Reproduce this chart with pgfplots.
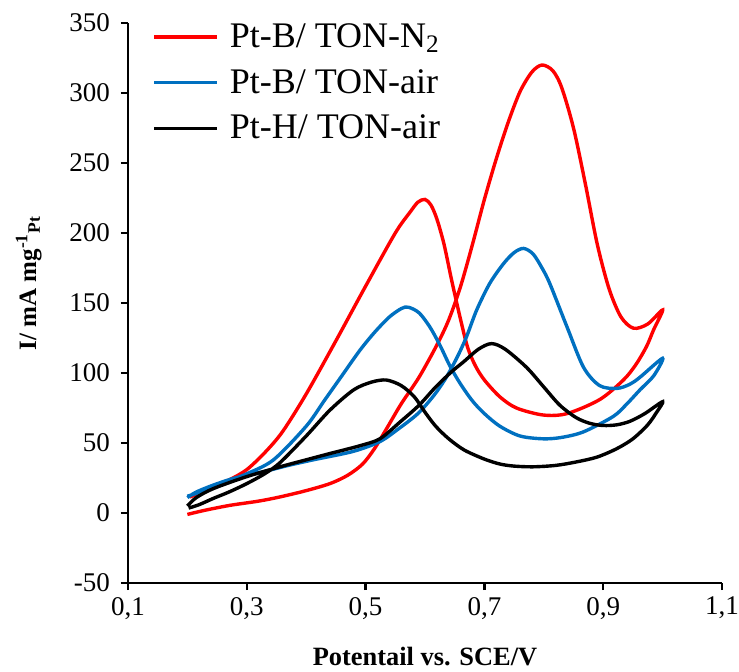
\documentclass[border=0pt]{standalone}
\usepackage{fontspec}
\setmainfont{Liberation Serif}
\usepackage{pgfplots}
\pgfplotsset{compat=1.18}
\definecolor{cvred}{RGB}{255,0,0}
\definecolor{cvblue}{RGB}{0,112,192}

\begin{document}
\begin{tikzpicture}
\begin{axis}[
    name=ax,
    scale only axis,
    width=297pt, height=280pt,
    xmin=0.1, xmax=1.1,
    ymin=-50, ymax=350,
    xtick={0.1,0.3,0.5,0.7,0.9,1.1},
    ytick={-50,0,50,100,150,200,250,300,350},
    axis x line*=bottom,
    axis y line*=left,
    axis line style={line width=1.2pt, -},
    tick style={line width=1.2pt, black},
    tick align=outside,
    major tick length=3.5pt,
    /pgf/number format/assume math mode=true,
    xticklabel style={/pgf/number format/.cd, fixed, fixed zerofill, precision=1, use comma},
    tick label style={font=\fontsize{13.5}{14}\selectfont},
    yticklabel style={xshift=-2pt},
    xlabel={\textbf{Potentail vs. SCE/V}},
    ylabel={\textbf{I/ mA mg\textsuperscript{-1}\textsubscript{Pt}}},
    xlabel style={font=\fontsize{13.2}{14}\selectfont, yshift=-7pt},
    ylabel style={font=\fontsize{12.5}{14}\selectfont, yshift=7pt, xshift=10pt},
    legend style={draw=none, fill=none, at={(0,1)}, anchor=north west,
        xshift=12pt, yshift=2pt, inner sep=0pt, row sep=5.5pt, column sep=3.5pt,
        font=\fontsize{18}{19}\selectfont},
    legend cell align=left,
    legend image code/.code={\draw[#1] (0pt,0pt) -- (31.5pt,0pt);},
    every axis plot/.append style={line width=1.7pt, smooth, tension=0.5},
]

% Pt-B/ TON-N2
\addplot[color=cvred] coordinates {
(0.200,-1) (0.230,2) (0.272,5.5) (0.320,8.5) (0.356,11.5) (0.400,16)
(0.440,21) (0.470,27) (0.495,35) (0.515,46) (0.535,60) (0.560,78)
(0.590,97) (0.620,120) (0.640,138) (0.660,162) (0.680,192) (0.700,224)
(0.720,253) (0.740,279) (0.760,301) (0.780,315) (0.797,320) (0.815,316)
(0.830,304) (0.850,275) (0.870,235) (0.890,192) (0.910,160) (0.930,140)
(0.951,132) (0.975,135) (1.000,145)
(0.985,131) (0.973,119) (0.955,106) (0.934,95) (0.894,81) (0.839,71)
(0.799,70) (0.754,75) (0.726,83) (0.700,95) (0.685,105) (0.672,118)
(0.660,138) (0.645,166) (0.632,192) (0.620,210) (0.610,220) (0.600,224)
(0.588,222) (0.575,215) (0.550,200) (0.500,162) (0.450,123) (0.400,85)
(0.360,58) (0.330,43) (0.300,31) (0.272,24) (0.244,19) (0.220,14)
(0.204,11.5)
};
\addlegendentry{Pt-B/ TON-N\textsubscript{2}}

% Pt-B/ TON-air
\addplot[color=cvblue] coordinates {
(0.200,11) (0.215,15) (0.244,20) (0.280,25) (0.328,29.5) (0.370,34)
(0.412,38) (0.479,44) (0.524,51) (0.555,60) (0.588,71) (0.615,84)
(0.636,97) (0.655,112) (0.670,126) (0.687,145) (0.709,164) (0.732,178)
(0.750,186) (0.766,189) (0.782,185) (0.797,175) (0.810,164) (0.839,133)
(0.867,104) (0.894,91) (0.923,89) (0.945,92) (0.962,97) (1.000,110.5)
(0.985,98) (0.962,88) (0.940,78) (0.917,69) (0.867,58) (0.830,54)
(0.799,53) (0.760,55) (0.726,62) (0.700,71) (0.680,80) (0.660,92)
(0.642,105) (0.625,120) (0.608,133) (0.590,143) (0.572,147) (0.560,146)
(0.540,140) (0.515,129) (0.490,116) (0.460,98) (0.430,80) (0.400,62)
(0.345,38) (0.300,28) (0.272,23.5) (0.240,18) (0.215,14) (0.200,12)
};
\addlegendentry{Pt-B/ TON-air}

% Pt-H/ TON-air
\addplot[color=black] coordinates {
(0.200,5) (0.215,11) (0.244,17.5) (0.300,26) (0.356,33) (0.400,38)
(0.440,42.5) (0.490,48) (0.524,53) (0.558,65) (0.590,77) (0.618,90)
(0.645,101) (0.665,108) (0.690,117) (0.712,121) (0.735,117) (0.771,104)
(0.800,90) (0.827,77) (0.855,68) (0.878,64) (0.900,62.5) (0.923,63)
(0.945,65.5) (0.970,71) (1.000,79.5)
(0.990,72) (0.975,63) (0.950,53) (0.923,46) (0.890,40) (0.855,36.5)
(0.820,34) (0.782,33) (0.750,33.5) (0.726,35) (0.700,38.5) (0.666,45)
(0.640,53) (0.618,62) (0.600,72) (0.582,83) (0.560,91) (0.535,95)
(0.510,93.5) (0.480,88) (0.440,73.5) (0.400,55) (0.356,36) (0.330,28)
(0.300,21) (0.270,15) (0.244,10.5) (0.220,6) (0.202,3.5)
};
\addlegendentry{Pt-H/ TON-air}

\end{axis}
\pgfresetboundingbox
\path ([shift={(-64pt,-44pt)}]ax.south west) rectangle ([shift={(8.5pt,11.5pt)}]ax.north east);
\end{tikzpicture}
\end{document}
